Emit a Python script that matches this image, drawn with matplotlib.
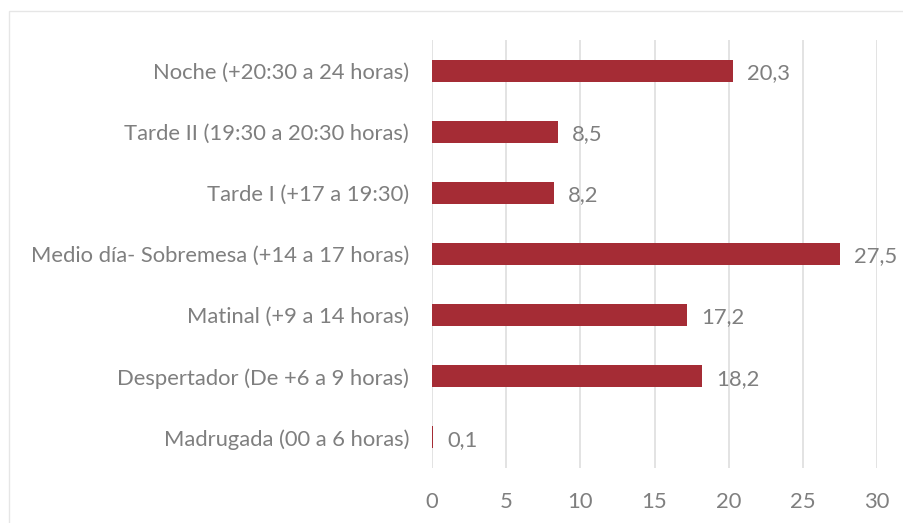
import matplotlib
matplotlib.use("Agg")
import matplotlib.pyplot as plt
from matplotlib.patches import Rectangle

# categories from bottom to top
categories = [
    "Madrugada (00 a 6 horas)",
    "Despertador (De +6 a 9 horas)",
    "Matinal (+9 a 14 horas)",
    "Medio día- Sobremesa (+14 a 17 horas)",
    "Tarde I (+17 a 19:30)",
    "Tarde II (19:30 a 20:30 horas)",
    "Noche (+20:30 a 24 horas)",
]
values = [0.1, 18.2, 17.2, 27.5, 8.2, 8.5, 20.3]
xticks = [0, 5, 10, 15, 20, 25, 30]

bar_color = "#A52C35"
text_color = "#7F7F7F"
grid_color = "#E0E0E0"
fs = 15.8

plt.rcParams['font.family'] = ['Lato', 'DejaVu Sans']

fig = plt.figure(figsize=(9.04, 5.23), dpi=100)
ax = fig.add_axes([432 / 904, 1 - 468 / 523, 445 / 904, 428 / 523])

ypos = list(range(len(categories)))
ax.barh(ypos, values, height=0.36, color=bar_color, zorder=3)

for y, v in zip(ypos, values):
    ax.text(v + 0.95, y - 0.04, f"{v:.1f}".replace(".", ","), va="center", ha="left",
            fontsize=fs, color=text_color)

ax.set_xlim(0, 30)
ax.set_ylim(-0.5, len(categories) - 0.5)
ax.set_xticks(xticks)
ax.set_xticklabels([str(t) for t in xticks], fontsize=fs, color=text_color)
ax.set_yticks(ypos)
ax.set_yticklabels(categories, fontsize=fs, color=text_color)
ax.tick_params(axis="both", length=0)
ax.tick_params(axis="x", pad=17)
ax.tick_params(axis="y", pad=16.5)
ax.grid(axis="x", color=grid_color, linewidth=1.3, zorder=0)
for s in ax.spines.values():
    s.set_visible(False)

# thin frame around the chart area
fig.patches.append(Rectangle((9 / 904, -0.05), 1.1, 1 - 11 / 523 + 0.05,
                             transform=fig.transFigure, fill=False,
                             edgecolor="#E6E6E6", linewidth=1.0))

fig.savefig("out.png", dpi=100)
